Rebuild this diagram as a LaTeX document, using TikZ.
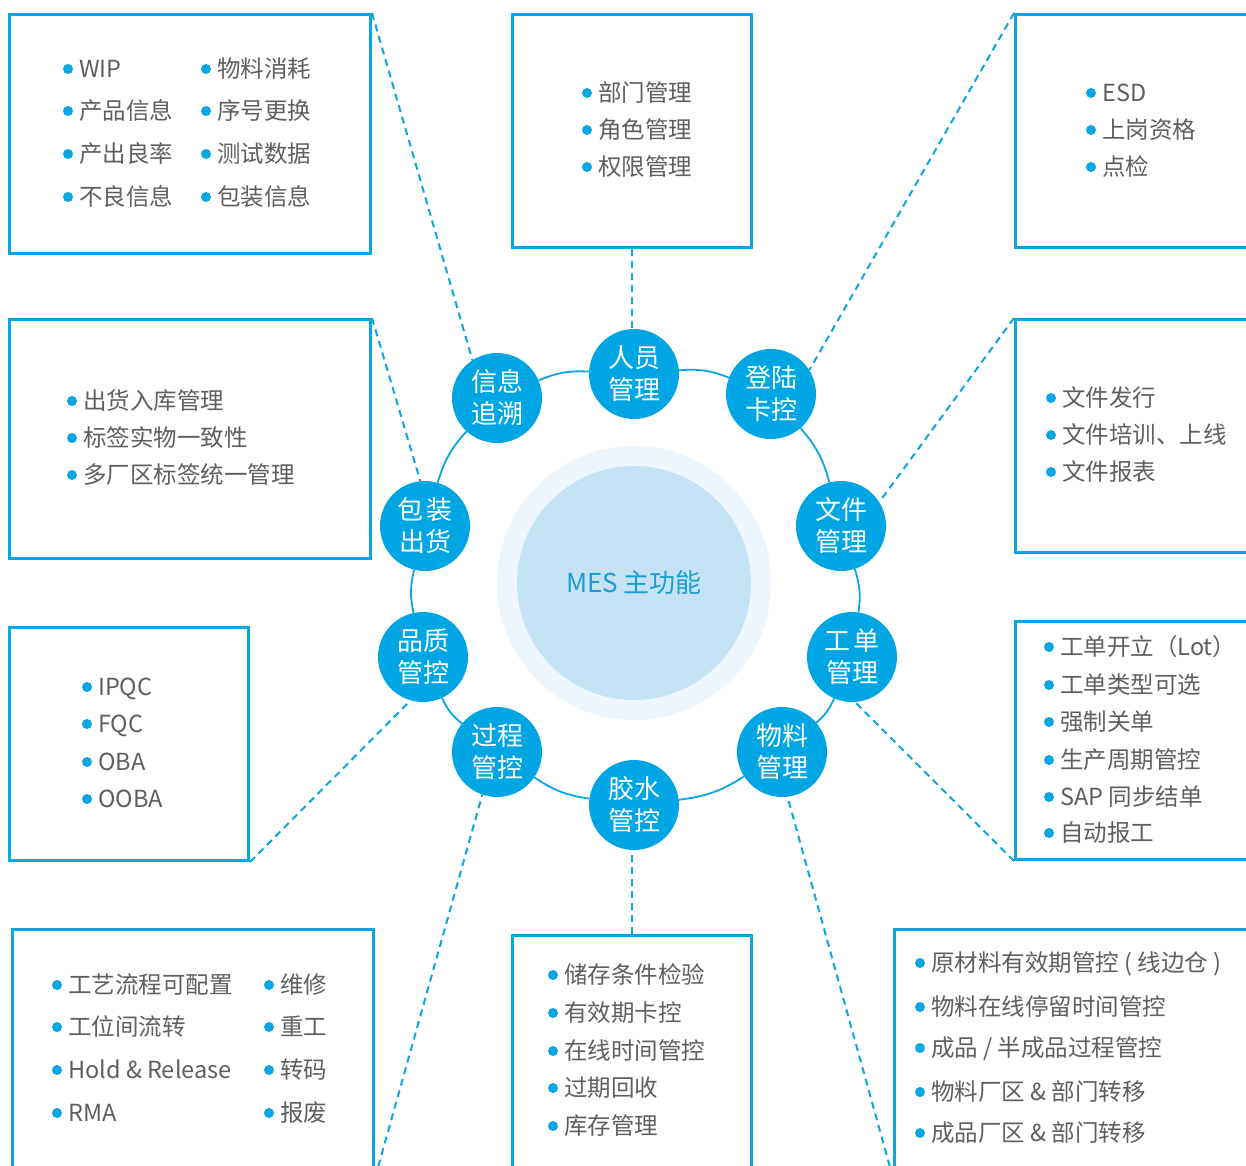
\documentclass[tikz,border=0pt]{standalone}
\usepackage{fontspec}
\setmainfont{Noto Sans CJK SC}
\definecolor{mblue}{RGB}{10,166,227}
\definecolor{cfill}{RGB}{0,166,227}
\definecolor{txtgray}{RGB}{95,95,95}
\definecolor{coreIn}{RGB}{198,226,245}
\definecolor{coreOut}{RGB}{238,246,253}
\definecolor{coreTxt}{RGB}{25,157,217}
\tikzset{
 box/.style={draw=mblue, line width=3pt, inner sep=0pt, anchor=north west},
 func/.style={circle, fill=cfill, minimum size=90pt, inner sep=0pt, text=white, align=center, font=\fontsize{26}{32}\selectfont},
 ring/.style={draw=mblue, line width=1.8pt},
 link/.style={draw=mblue, line width=2pt, dash pattern=on 7pt off 5pt},
 itm/.style={anchor=west, inner sep=0pt, text=txtgray, text height=20.7pt, text depth=2.8pt, font=\fontsize{23.5}{28}\selectfont},
 dotmark/.style={fill=mblue},
}
\newcommand\bitem[4]{\fill[dotmark] (#2-11,#3) circle (5pt); \node[itm] (#1) at (#2,#3) {#4};}
\begin{document}
\begin{tikzpicture}[x=1pt,y=-1pt]
\clip (0,0) rectangle (1246,1165);
\fill[white] (0,0) rectangle (1246,1165);
% boxes
\node[box, minimum width=361pt, minimum height=239pt] (b1) at (8,13) {};
\node[box, minimum width=239pt, minimum height=233pt] (b2) at (511,13) {};
\node[box, minimum width=260pt, minimum height=233pt] (b3) at (1014,13) {};
\node[box, minimum width=361pt, minimum height=239pt] (b4) at (8,318) {};
\node[box, minimum width=260pt, minimum height=233pt] (b5) at (1014,318) {};
\node[box, minimum width=239pt, minimum height=233pt] (b6) at (8,626) {};
\node[box, minimum width=260pt, minimum height=238pt] (b7) at (1014,620) {};
\node[box, minimum width=361pt, minimum height=247pt] (b8) at (11,928) {};
\node[box, minimum width=239pt, minimum height=241pt] (b9) at (511,934) {};
\node[box, minimum width=380pt, minimum height=247pt] (b10) at (893,928) {};
% core
\node[circle, fill=coreOut, minimum size=274pt, inner sep=0pt] (co) at (634,583) {};
\node[circle, fill=coreIn, minimum size=234pt, inner sep=0pt, text=coreTxt, font=\fontsize{26}{30}\selectfont] (ci) at (634,583) {MES 主功能};
% function circles
\node[func] (p) at (634,374) {人员\\管理};
\node[func] (d) at (771,394) {登陆\\卡控};
\node[func] (w) at (841,526) {文件\\管理};
\node[func] (g) at (852,657) {工\hspace{4pt}单\\管理};
\node[func] (m) at (782,752) {物料\\管理};
\node[func] (j) at (634,805) {胶水\\管控};
\node[func] (c) at (497,752) {过程\\管控};
\node[func] (q) at (423,657) {品质\\管控};
\node[func] (b) at (425,526) {包\hspace{4pt}装\\出货};
\node[func] (x) at (497,398) {信息\\追溯};
% ring
\draw[ring] (p) to[bend left=13] (d);
\draw[ring] (d) to[bend left=13] (w);
\draw[ring] (w) to[bend left=13] (g);
\draw[ring] (g) to[bend left=13] (m);
\draw[ring] (m) to[bend left=13] (j);
\draw[ring] (j) to[bend left=13] (c);
\draw[ring] (c) to[bend left=13] (q);
\draw[ring] (q) to[bend left=13] (b);
\draw[ring] (b) to[bend left=13] (x);
\draw[ring] (x) to[bend left=13] (p);
% dashed links
\draw[link] (b1.north east) -- (x.123);
\draw[link] (b2.south) -- (b2.south |- p.north);
\draw[link] (b3.north west) -- (d.32);
\draw[link] (b4.north east) -- (b.96);
\draw[link] (b5.north west) -- (w.32);
\draw[link] (b6.south east) -- (q.-106);
\draw[link] (b7.south west) -- (g.-86);
\draw[link] (b8.south east) -- (c.-109);
\draw[link] (b9.north) -- (b9.north |- j.south);
\draw[link] (b10.south west) -- (m.-83);
% items box 1
\bitem{i1a}{79}{69}{WIP}
\bitem{i1b}{79}{111}{产品信息}
\bitem{i1c}{79}{154}{产出良率}
\bitem{i1d}{79}{197}{不良信息}
\bitem{i1e}{217}{69}{物料消耗}
\bitem{i1f}{217}{111}{序号更换}
\bitem{i1g}{217}{154}{测试数据}
\bitem{i1h}{217}{197}{包装信息}
% box 2
\bitem{i2a}{598}{93}{部门管理}
\bitem{i2b}{598}{130}{角色管理}
\bitem{i2c}{598}{167}{权限管理}
% box 3
\bitem{i3a}{1102}{93}{ESD}
\bitem{i3b}{1102}{130}{上岗资格}
\bitem{i3c}{1102}{167}{点检}
% box 4
\bitem{i4a}{83}{401}{出货入库管理}
\bitem{i4b}{83}{438}{标签实物一致性}
\bitem{i4c}{83}{475}{多厂区标签统一管理}
% box 5
\bitem{i5a}{1062}{398}{文件发行}
\bitem{i5b}{1062}{435}{文件培训、上线}
\bitem{i5c}{1062}{472}{文件报表}
% box 6
\bitem{i6a}{98}{687}{IPQC}
\bitem{i6b}{98}{724}{FQC}
\bitem{i6c}{98}{762}{OBA}
\bitem{i6d}{98}{799}{OOBA}
% box 7
\bitem{i7a}{1060}{647}{工单开立（Lot）}
\bitem{i7b}{1060}{685}{工单类型可选}
\bitem{i7c}{1060}{722}{强制关单}
\bitem{i7d}{1060}{760}{生产周期管控}
\bitem{i7e}{1060}{797}{SAP 同步结单}
\bitem{i7f}{1060}{833}{自动报工}
% box 8
\bitem{i8a}{68}{985}{工艺流程可配置}
\bitem{i8b}{68}{1027}{工位间流转}
\bitem{i8c}{68}{1070}{Hold \& Release}
\bitem{i8d}{68}{1113}{RMA}
\bitem{i8e}{280}{985}{维修}
\bitem{i8f}{280}{1027}{重工}
\bitem{i8g}{280}{1070}{转码}
\bitem{i8h}{280}{1113}{报废}
% box 9
\bitem{i9a}{564}{975}{储存条件检验}
\bitem{i9b}{564}{1013}{有效期卡控}
\bitem{i9c}{564}{1051}{在线时间管控}
\bitem{i9d}{564}{1088}{过期回收}
\bitem{i9e}{564}{1126}{库存管理}
% box 10
\bitem{i10a}{931}{963}{原材料有效期管控 ( 线边仓 )}
\bitem{i10b}{931}{1007}{物料在线停留时间管控}
\bitem{i10c}{931}{1048}{成品 / 半成品过程管控}
\bitem{i10d}{931}{1092}{物料厂区 \& 部门转移}
\bitem{i10e}{931}{1133}{成品厂区 \& 部门转移}
\end{tikzpicture}
\end{document}
